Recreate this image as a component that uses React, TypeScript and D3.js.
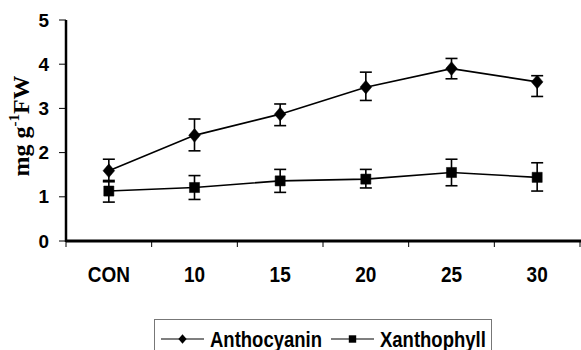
import React, { useRef, useEffect } from "react";
import * as d3 from "d3";

const categories = ["CON", "10", "15", "20", "25", "30"];
const anthocyanin = [1.59, 2.39, 2.87, 3.48, 3.9, 3.6];
const anthoErrUp = [0.26, 0.37, 0.23, 0.34, 0.23, 0.14];
const anthoErrDown = [0.25, 0.35, 0.26, 0.3, 0.23, 0.33];
const xanthophyll = [1.13, 1.21, 1.36, 1.4, 1.55, 1.44];
const xanthoErrUp = [0.24, 0.27, 0.26, 0.22, 0.3, 0.33];
const xanthoErrDown = [0.25, 0.27, 0.26, 0.2, 0.3, 0.31];
const yTicks = [0, 1, 2, 3, 4, 5];

const App = () => {
    const ref = useRef<SVGSVGElement | null>(null);

    useEffect(() => {
        document.body.style.margin = "0";
        const svg = d3.select(ref.current);
        svg.selectAll("*").remove();

        const left = 66, right = 580, top = 20, bottom = 241;
        const x = d3.scaleBand().domain(categories).range([left, right]);
        const y = d3.scaleLinear().domain([0, 5]).range([bottom, top]);
        const cx = (c: string) => (x(c) as number) + x.bandwidth() / 2;

        // y axis
        svg.append("line").attr("x1", left).attr("x2", left).attr("y1", top).attr("y2", bottom + 1)
            .attr("stroke", "#000").attr("stroke-width", 2.5);
        svg.selectAll(".yt").data(yTicks).enter().append("line")
            .attr("x1", left - 7).attr("x2", left).attr("y1", (d) => y(d)).attr("y2", (d) => y(d))
            .attr("stroke", "#000").attr("stroke-width", 1);
        svg.selectAll(".yl").data(yTicks).enter().append("text")
            .attr("transform", (d) => `translate(49,${y(d) + 6.5}) scale(1.05,1.05)`).attr("text-anchor", "end")
            .attr("font-family", "Liberation Sans, Arial, sans-serif").attr("font-weight", "bold")
            .attr("font-size", 18).text((d) => d);

        // x axis
        svg.append("line").attr("x1", left).attr("x2", right + 2).attr("y1", bottom).attr("y2", bottom)
            .attr("stroke", "#000").attr("stroke-width", 3);
        const edges = categories.map((c) => x(c) as number).concat([right]);
        svg.selectAll(".xt").data(edges).enter().append("line")
            .attr("x1", (d) => d).attr("x2", (d) => d).attr("y1", bottom).attr("y2", bottom + 6)
            .attr("stroke", "#000").attr("stroke-width", 1);
        svg.selectAll(".xl").data(categories).enter().append("text")
            .attr("transform", (d) => `translate(${cx(d)},282) scale(1,1.12)`)
            .attr("text-anchor", "middle")
            .attr("font-family", "Liberation Sans, Arial, sans-serif").attr("font-weight", "bold")
            .attr("font-size", 19).text((d) => d);

        // y title
        const yt = svg.append("text").attr("transform", "translate(29,126) rotate(-90)")
            .attr("text-anchor", "middle").attr("font-family", "Liberation Serif, Times New Roman, serif")
            .attr("font-weight", "bold").attr("font-size", 24);
        yt.append("tspan").text("mg g");
        yt.append("tspan").attr("font-size", 15).attr("dy", -10).text("-1");
        yt.append("tspan").attr("dy", 10).text("FW");

        const line = d3.line<number>().x((_, i) => cx(categories[i])).y((d) => y(d));

        const drawSeries = (vals: number[], up: number[], down: number[], shape: "diamond" | "square") => {
            svg.append("path").attr("d", line(vals) as string).attr("fill", "none")
                .attr("stroke", "#000").attr("stroke-width", 1.6);
            vals.forEach((v, i) => {
                const px = cx(categories[i]);
                const y1 = y(v + up[i]), y2 = y(v - down[i]);
                svg.append("line").attr("x1", px).attr("x2", px).attr("y1", y1).attr("y2", y2)
                    .attr("stroke", "#000").attr("stroke-width", 1.6);
                [y1, y2].forEach((yy) => svg.append("line").attr("x1", px - 6).attr("x2", px + 6)
                    .attr("y1", yy).attr("y2", yy).attr("stroke", "#000").attr("stroke-width", 1.6));
                const sym = d3.symbol().type(shape === "diamond" ? d3.symbolDiamond2 : d3.symbolSquare2)
                    .size(shape === "diamond" ? 120 : 130);
                svg.append("path").attr("d", sym() as string)
                    .attr("transform", `translate(${px},${y(v)})${shape === "diamond" ? " scale(0.85,1)" : ""}`)
                    .attr("fill", "#000").attr("stroke", "#000").attr("stroke-width", 0.5);
            });
        };
        drawSeries(anthocyanin, anthoErrUp, anthoErrDown, "diamond");
        drawSeries(xanthophyll, xanthoErrUp, xanthoErrDown, "square");

        // legend
        svg.append("rect").attr("x", 154.5).attr("y", 319.5).attr("width", 337).attr("height", 40)
            .attr("fill", "none").attr("stroke", "#777").attr("stroke-width", 1);
        const items = [
            { name: "Anthocyanin", shape: "diamond", x0: 161 },
            { name: "Xanthophyll", shape: "square", x0: 331 },
        ];
        items.forEach((it) => {
            const ly = 339;
            svg.append("line").attr("x1", it.x0).attr("x2", it.x0 + 43).attr("y1", ly).attr("y2", ly)
                .attr("stroke", "#000").attr("stroke-width", 1.2);
            const sym = d3.symbol().type(it.shape === "diamond" ? d3.symbolDiamond2 : d3.symbolSquare2)
                .size(it.shape === "diamond" ? 60 : 70);
            svg.append("path").attr("d", sym() as string)
                .attr("transform", `translate(${it.x0 + 21.5},${ly})${it.shape === "diamond" ? " scale(0.85,1)" : ""}`)
                .attr("fill", "#000");
            svg.append("text").attr("transform", `translate(${it.x0 + 49},347) scale(1,1.15)`)
                .attr("font-family", "Liberation Sans, Arial, sans-serif").attr("font-weight", "bold")
                .attr("font-size", 18.5).text(it.name);
        });
    }, []);

    return <svg ref={ref} width={581} height={350} viewBox="0 0 581 350" style={{ display: "block" }} />;
};

export default App;
